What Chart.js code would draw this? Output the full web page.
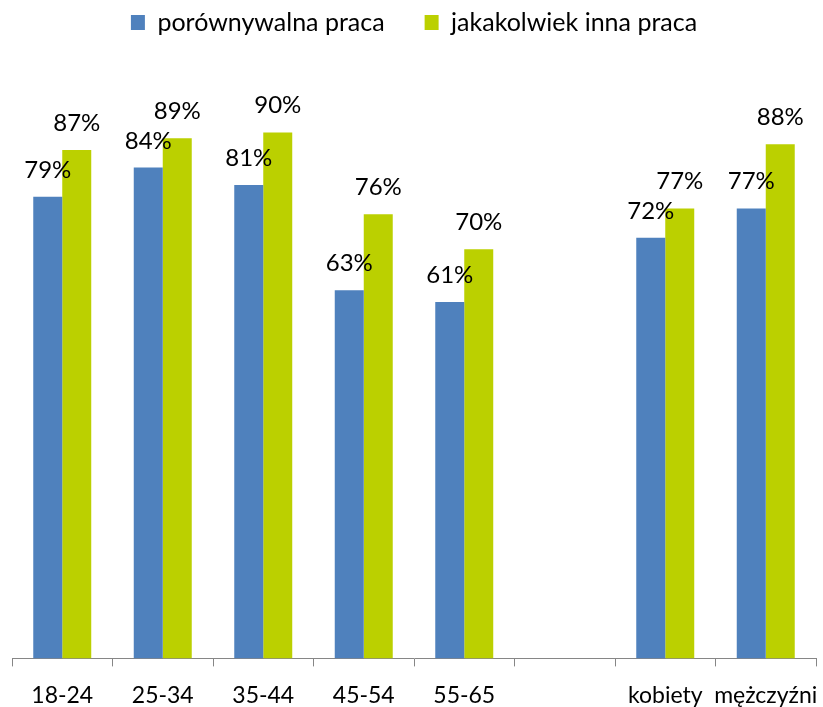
<!DOCTYPE html>
<html>
<head>
<meta charset="utf-8">
<script src="https://cdn.jsdelivr.net/npm/chart.js@4"></script>
<style>
  html, body { margin: 0; padding: 0; background: #fff; }
  #wrap { width: 823px; height: 707px; }
</style>
</head>
<body>
<div id="wrap"><canvas id="chart" width="823" height="707"></canvas></div>
<script>
// chart data
const categories = ['18-24', '25-34', '35-44', '45-54', '55-65', '', 'kobiety', 'mężczyźni'];
const seriesNames = ['porównywalna praca', 'jakakolwiek inna praca'];
const comparableWork = [79, 84, 81, 63, 61, null, 72, 77];
const anyOtherWork = [87, 89, 90, 76, 70, null, 77, 88];

const FONT = 'Lato, "Open Sans", sans-serif';

// draws the % labels above each bar
const barLabels = {
  id: 'barLabels',
  afterDatasetsDraw(chart) {
    const ctx = chart.ctx;
    ctx.save();
    ctx.font = '24px ' + FONT;
    ctx.fillStyle = '#000';
    ctx.textAlign = 'center';
    ctx.textBaseline = 'alphabetic';
    chart.data.datasets.forEach((ds, i) => {
      chart.getDatasetMeta(i).data.forEach((bar, j) => {
        if (ds.data[j] == null) return;
        ctx.fillText(ds.data[j] + '%', bar.x, bar.y - 19);
      });
    });
    ctx.restore();
  }
};

// extra room under the legend
const legendGap = {
  id: 'legendGap',
  beforeInit(chart) {
    const fit = chart.legend.fit;
    chart.legend.fit = function () {
      fit.call(this);
      this.height += 29;
    };
  }
};

new Chart(document.getElementById('chart'), {
  type: 'bar',
  data: {
    labels: categories,
    datasets: [
      {
        label: seriesNames[0],
        data: comparableWork,
        backgroundColor: '#4f81bd',
        barPercentage: 1,
        categoryPercentage: 0.577
      },
      {
        label: seriesNames[1],
        data: anyOtherWork,
        backgroundColor: '#bbd000',
        barPercentage: 1,
        categoryPercentage: 0.577
      }
    ]
  },
  options: {
    responsive: false,
    animation: false,
    layout: { padding: { top: 2, left: 12, right: 7, bottom: -17 } },
    plugins: {
      tooltip: { enabled: false },
      legend: {
        position: 'top',
        labels: {
          color: '#000',
          font: { family: FONT, size: 25 },
          boxWidth: 14,
          boxHeight: 15,
          padding: 8,
          generateLabels(chart) {
            const items = Chart.defaults.plugins.legend.labels.generateLabels(chart);
            // widen the gap between the two entries
            items[0].text = items[0].text + '     ';
            items.forEach(it => { it.lineWidth = 0; });
            return items;
          }
        }
      }
    },
    scales: {
      y: { display: false, min: 0, max: 100 },
      x: {
        offset: true,
        // labels fit inside the canvas already, no extra side padding
        afterFit(scale) {
          scale.paddingLeft = 0;
          scale.paddingRight = 0;
        },
        border: { display: true, color: '#868686', width: 1 },
        grid: {
          offset: true,
          drawOnChartArea: false,
          drawTicks: true,
          tickLength: 8,
          color: '#868686'
        },
        ticks: {
          color: '#000',
          font: { family: FONT, size: 23 },
          autoSkip: false,
          maxRotation: 0,
          padding: 15
        }
      }
    }
  },
  plugins: [barLabels, legendGap]
});
</script>
</body>
</html>
